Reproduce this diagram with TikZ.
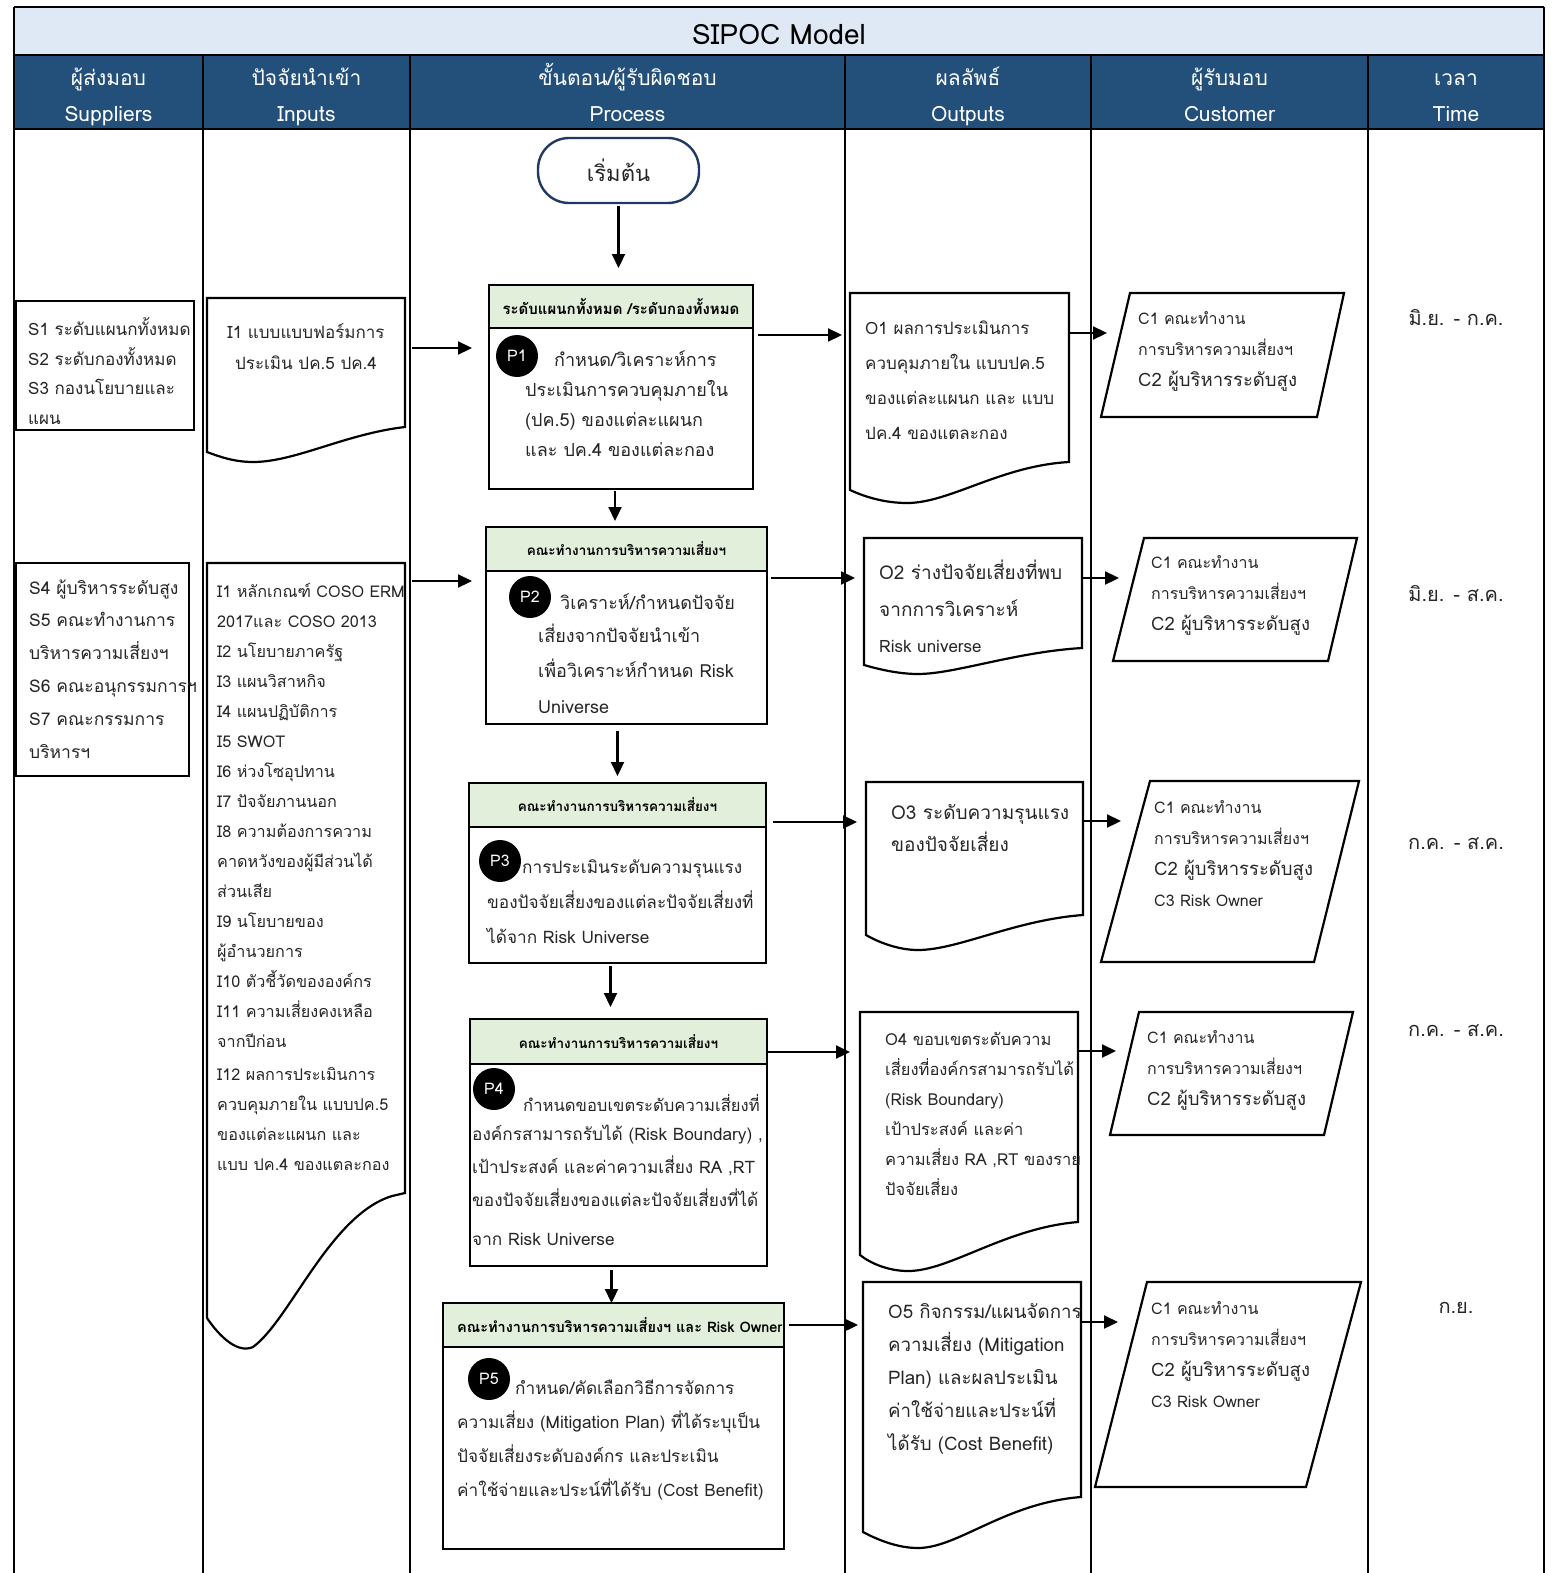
\documentclass[tikz,border=0pt]{standalone}
\usepackage{fontspec}
\setmainfont{Loma}[Script=Thai]
\usetikzlibrary{arrows.meta}
\definecolor{titlebg}{HTML}{DEE9F5}
\definecolor{hdrbg}{HTML}{22507A}
\definecolor{hgreen}{HTML}{E2EFDA}
\definecolor{navy}{HTML}{1F3864}
\definecolor{txt}{HTML}{262626}
\newcommand\fsz[2]{\fontsize{#1}{#2}\selectfont}
\begin{document}
\begin{tikzpicture}[x=1pt,y=-1pt,
 gridline/.style={line width=2pt},
 pbox/.style={draw, line width=2.4pt, anchor=north west, inner sep=0pt, outer sep=0pt},
 ar/.style={line width=2.2pt, -{Triangle[length=14pt,width=13pt]}},
 docshape/.style={draw, line width=2.2pt, line join=miter},
 ptag/.style={circle, fill=black, text=white, minimum size=42pt, inner sep=0pt, font=\fsz{16}{16}},
 tl/.style={anchor=base west, align=left, inner sep=0pt, text=txt},
 tc/.style={anchor=base, align=center, inner sep=0pt, text=txt},
 hd/.style={text=white, font=\fsz{21}{21}, anchor=base, inner sep=0pt},
 ghead/.style={font=\bfseries\fsz{13.5}{13.5}, inner sep=0pt},
]
\useasboundingbox (0,0) rectangle (1555,1573);
% ---------- frame ----------
\fill[titlebg] (14,7) rectangle (1544,55);
\fill[hdrbg] (14,55) rectangle (1544,129);
\draw[gridline] (14,7) -- (1544,7);
\draw[gridline] (14,55) -- (1544,55);
\draw[gridline] (14,129) -- (1544,129);
\foreach \cx in {14,203,410,845,1091,1368,1544}{\draw[gridline] (\cx,55) -- (\cx,1573);}
\draw[gridline] (14,7) -- (14,55);
\draw[gridline] (1544,7) -- (1544,55);
\node[font=\fsz{28}{28}, inner sep=0pt] (title) at (779,35) {SIPOC Model};
\node[hd] (h1a) at (108.5,86) {ผู้ส่งมอบ};
\node[hd] (h1b) at (108.5,122) {Suppliers};
\node[hd] (h2a) at (306.5,86) {ปัจจัยนำเข้า};
\node[hd] (h2b) at (306.5,122) {Inputs};
\node[hd] (h3a) at (627.5,86) {ขั้นตอน/ผู้รับผิดชอบ};
\node[hd] (h3b) at (627.5,122) {Process};
\node[hd] (h4a) at (968,86) {ผลลัพธ์};
\node[hd] (h4b) at (968,122) {Outputs};
\node[hd] (h5a) at (1229.5,86) {ผู้รับมอบ};
\node[hd] (h5b) at (1229.5,122) {Customer};
\node[hd] (h6a) at (1456,86) {เวลา};
\node[hd] (h6b) at (1456,122) {Time};

% ---------- suppliers ----------
\node[pbox, minimum width=178pt, minimum height=129pt] (s1) at (16,301) {};
\node[tl, font=\fsz{17}{29.5}] (s1t) at (28,424) {S1 ระดับแผนกทั้งหมด\\S2 ระดับกองทั้งหมด\\S3 กองนโยบายและ\\แผน};
\node[pbox, minimum width=173pt, minimum height=213pt] (s4) at (16,563) {};
\node[tl, font=\fsz{17.5}{32.8}] (s4t) at (29,758) {S4 ผู้บริหารระดับสูง\\S5 คณะทำงานการ\\บริหารความเสี่ยงฯ\\S6 คณะอนุกรรมการฯ\\S7 คณะกรรมการ\\บริหารฯ};

% ---------- inputs ----------
\draw[docshape] (207,298) -- (405,298) -- (405,427) .. controls (345,434) and (295,462) .. (253,462) .. controls (235,462) and (220,457) .. (207,452) -- cycle;
\node[tc, font=\fsz{17}{31}] (i1t) at (306,369) {I1 แบบแบบฟอร์มการ\\ประเมิน ปค.5 ปค.4};
\coordinate (i1r) at (412,348);
\draw[docshape] (207,563) -- (405,563) -- (405,1193) -- (392,1196) .. controls (330,1215) and (290,1320) .. (253,1347) .. controls (235,1355) and (215,1330) .. (207,1318) -- cycle;
\node[tl, font=\fsz{16.2}{30}] (i2t) at (217,1170) {I1 หลักเกณฑ์ COSO ERM\\2017และ COSO 2013\\I2 นโยบายภาครัฐ\\I3 แผนวิสาหกิจ\\I4 แผนปฏิบัติการ\\I5 SWOT\\I6 ห่วงโซอุปทาน\\I7 ปัจจัยภานนอก\\I8 ความต้องการความ\\คาดหวังของผู้มีส่วนได้\\ส่วนเสีย\\I9 นโยบายของ\\ผู้อำนวยการ\\I10 ตัวชี้วัดขององค์กร\\I11 ความเสี่ยงคงเหลือ\\จากปีก่อน\\[3pt]I12 ผลการประเมินการ\\ควบคุมภายใน แบบปค.5\\ของแต่ละแผนก และ\\แบบ ปค.4 ของแตละกอง};
\coordinate (i2r) at (412,581);

% ---------- process ----------
\node[draw=navy, line width=2.4pt, rounded corners=31pt, minimum width=161pt, minimum height=65pt, inner sep=0pt, font=\fsz{22}{22}, text=txt] (start) at (618.5,170.5) {เริ่มต้น};

\node[pbox, fill=hgreen, minimum width=264pt, minimum height=43pt] (p1h) at (489,285) {};
\node[ghead, font=\bfseries\fsz{15}{15}] (p1ht) at (p1h.center) {ระดับแผนกทั้งหมด /ระดับกองทั้งหมด};
\node[pbox, minimum width=264pt, minimum height=161pt] (p1b) at (489,328) {};
\node[ptag] (p1c) at (517,356) {P1};
\node[tl, font=\fsz{18}{30}] (p1t1) at (554,366) {กำหนด/วิเคราะห์การ};
\node[tl, font=\fsz{18}{30}] (p1t2) at (525,456) {ประเมินการควบคุมภายใน\\(ปค.5) ของแต่ละแผนก\\และ ปค.4 ของแต่ละกอง};

\node[pbox, fill=hgreen, minimum width=281pt, minimum height=44pt] (p2h) at (486,527) {};
\node[ghead] (p2ht) at (p2h.center) {คณะทำงานการบริหารความเสี่ยงฯ};
\node[pbox, minimum width=281pt, minimum height=153pt] (p2b) at (486,571) {};
\node[ptag] (p2c) at (530,597) {P2};
\node[tl, font=\fsz{18}{35.5}] (p2t1) at (560,609) {วิเคราะห์/กำหนดปัจจัย};
\node[tl, font=\fsz{18}{35.5}] (p2t2) at (538,713) {เสี่ยงจากปัจจัยนำเข้า\\เพื่อวิเคราะห์กำหนด Risk\\Universe};

\node[pbox, fill=hgreen, minimum width=297pt, minimum height=44pt] (p3h) at (469,783) {};
\node[ghead] (p3ht) at (p3h.center) {คณะทำงานการบริหารความเสี่ยงฯ};
\node[pbox, minimum width=297pt, minimum height=136pt] (p3b) at (469,827) {};
\node[ptag] (p3c) at (500,861) {P3};
\node[tl, font=\fsz{17.2}{35}] (p3t1) at (522,873) {การประเมินระดับความรุนแรง};
\node[tl, font=\fsz{17.2}{35}] (p3t2) at (487,943) {ของปัจจัยเสี่ยงของแต่ละปัจจัยเสี่ยงที่\\ได้จาก Risk Universe};

\node[pbox, fill=hgreen, minimum width=297pt, minimum height=45pt] (p4h) at (470,1019) {};
\node[ghead] (p4ht) at (p4h.center) {คณะทำงานการบริหารความเสี่ยงฯ};
\node[pbox, minimum width=297pt, minimum height=202pt] (p4b) at (470,1064) {};
\node[ptag] (p4c) at (494,1089) {P4};
\node[tl, font=\fsz{16.6}{33}] (p4t1) at (523,1111) {กำหนดขอบเขตระดับความเสี่ยงที่};
\node[tl, font=\fsz{17.2}{33}] (p4t2) at (472,1245) {องค์กรสามารถรับได้ (Risk Boundary) ,\\เป้าประสงค์ และค่าความเสี่ยง RA ,RT\\ของปัจจัยเสี่ยงของแต่ละปัจจัยเสี่ยงที่ได้\\[6pt]จาก Risk Universe};

\node[pbox, fill=hgreen, minimum width=341pt, minimum height=44pt] (p5h) at (443,1303) {};
\node[ghead, anchor=west, font=\bfseries\fsz{14.5}{14.5}] (p5ht) at (457,1325) {คณะทำงานการบริหารความเสี่ยงฯ และ Risk Owner};
\node[pbox, minimum width=341pt, minimum height=202pt] (p5b) at (443,1347) {};
\node[ptag] (p5c) at (489,1379) {P5};
\node[tl, font=\fsz{17.2}{34}] (p5t1) at (515,1394) {กำหนด/คัดเลือกวิธีการจัดการ};
\node[tl, font=\fsz{17.2}{34}] (p5t2) at (457,1496) {ความเสี่ยง (Mitigation Plan) ที่ได้ระบุเป็น\\ปัจจัยเสี่ยงระดับองค์กร และประเมิน\\ค่าใช้จ่ายและประน์ที่ได้รับ (Cost Benefit)};

% ---------- outputs ----------
\draw[docshape] (850,293) -- (1069,293) -- (1069,462) .. controls (1000,466) and (950,503) .. (907,503) .. controls (885,503) and (865,497) .. (850,490) -- cycle;
\node[tl, font=\fsz{17}{35}] (o1t) at (865,439) {O1 ผลการประเมินการ\\ควบคุมภายใน แบบปค.5\\ของแต่ละแผนก และ แบบ\\ปค.4 ของแตละกอง};
\coordinate (o1l) at (842,335); \coordinate (o1r) at (1069,333);

\draw[docshape] (864,538) -- (1082,538) -- (1082,648) .. controls (1015,652) and (955,674) .. (918,674) .. controls (898,674) and (878,669) .. (864,665) -- cycle;
\node[tl, font=\fsz{19}{37}] (o2t) at (879,616) {O2 ร่างปัจจัยเสี่ยงที่พบ\\จากการวิเคราะห์};
\node[tl, font=\fsz{17}{17}] (o2t2) at (879,652) {Risk universe};
\coordinate (o2l) at (855,578); \coordinate (o2r) at (1082,578);

\draw[docshape] (866,782) -- (1083,782) -- (1083,915) .. controls (1015,920) and (958,950) .. (918,950) .. controls (898,950) and (878,942) .. (866,935) -- cycle;
\node[tl, font=\fsz{19}{32}] (o3t) at (891,851) {O3 ระดับความรุนแรง\\ของปัจจัยเสี่ยง};
\coordinate (o3l) at (857,822); \coordinate (o3r) at (1083,821);

\draw[docshape] (860,1012) -- (1078,1012) -- (1078,1222) .. controls (1005,1228) and (950,1271) .. (908,1271) .. controls (888,1271) and (870,1263) .. (860,1255) -- cycle;
\node[tl, font=\fsz{16.5}{30}] (o4t) at (885,1195) {O4 ขอบเขตระดับความ\\เสี่ยงที่องค์กรสามารถรับได้\\(Risk Boundary)\\เป้าประสงค์ และค่า\\ความเสี่ยง RA ,RT ของราย\\ปัจจัยเสี่ยง};
\coordinate (o4l) at (850,1052); \coordinate (o4r) at (1078,1051);

\draw[docshape] (863,1282) -- (1081,1282) -- (1081,1497) .. controls (1005,1503) and (958,1548) .. (918,1548) .. controls (898,1548) and (878,1540) .. (863,1532) -- cycle;
\node[tl, font=\fsz{18.7}{33}] (o5t) at (888,1450) {O5 กิจกรรม/แผนจัดการ\\ความเสี่ยง (Mitigation\\Plan) และผลประเมิน\\ค่าใช้จ่ายและประน์ที่\\ได้รับ (Cost Benefit)};
\coordinate (o5l) at (858,1325); \coordinate (o5r) at (1081,1322);

% ---------- customers ----------
\draw[docshape] (1130,293) -- (1344,293) -- (1317,417) -- (1101,417) -- cycle;
\node[tl, font=\fsz{16}{31}] (c1t) at (1138,386) {C1 คณะทำงาน\\การบริหารความเสี่ยงฯ\\{\fsz{18.5}{18.5}C2 ผู้บริหารระดับสูง}};
\coordinate (c1l) at (1107,333);

\draw[docshape] (1144,538) -- (1357,538) -- (1328,661) -- (1113,661) -- cycle;
\node[tl, font=\fsz{16}{31}] (c2t) at (1151,630) {C1 คณะทำงาน\\การบริหารความเสี่ยงฯ\\{\fsz{18.5}{18.5}C2 ผู้บริหารระดับสูง}};
\coordinate (c2l) at (1119,578);

\draw[docshape] (1150,781) -- (1359,781) -- (1314,962) -- (1101,962) -- cycle;
\node[tl, font=\fsz{16}{31}] (c3t) at (1154,906) {C1 คณะทำงาน\\การบริหารความเสี่ยงฯ\\{\fsz{18.5}{18.5}C2 ผู้บริหารระดับสูง}\\C3 Risk Owner};
\coordinate (c3l) at (1121,821);

\draw[docshape] (1139,1012) -- (1353,1012) -- (1324,1135) -- (1110,1135) -- cycle;
\node[tl, font=\fsz{16}{31}] (c4t) at (1147,1105) {C1 คณะทำงาน\\การบริหารความเสี่ยงฯ\\{\fsz{18.5}{18.5}C2 ผู้บริหารระดับสูง}};
\coordinate (c4l) at (1116,1051);

\draw[docshape] (1147,1282) -- (1361,1282) -- (1306,1487) -- (1095,1487) -- cycle;
\node[tl, font=\fsz{16}{31}] (c5t) at (1151,1407) {C1 คณะทำงาน\\การบริหารความเสี่ยงฯ\\{\fsz{18.5}{18.5}C2 ผู้บริหารระดับสูง}\\C3 Risk Owner};
\coordinate (c5l) at (1118,1322);

% ---------- time ----------
\node[tc, font=\fsz{20}{20}] (tm1) at (1456,325) {มิ.ย. - ก.ค.};
\node[tc, font=\fsz{20}{20}] (tm2) at (1456,601) {มิ.ย. - ส.ค.};
\node[tc, font=\fsz{20}{20}] (tm3) at (1456,849) {ก.ค. - ส.ค.};
\node[tc, font=\fsz{20}{20}] (tm4) at (1456,1036) {ก.ค. - ส.ค.};
\node[tc, font=\fsz{20}{20}] (tm5) at (1456,1313) {ก.ย.};

% ---------- connectors ----------
\draw[ar, shorten <=2pt, shorten >=17pt] (start.south) -- (start.south |- p1h.north);
\draw[ar, shorten <=2pt, shorten >=6pt] ([xshift=-6pt]p1b.south) -- ([xshift=-6pt]p1b.south |- p2h.north);
\draw[ar, shorten <=7pt, shorten >=7pt] ([xshift=-9pt]p2b.south) -- ([xshift=-9pt]p2b.south |- p3h.north);
\draw[ar, shorten <=3pt, shorten >=12pt] ([xshift=-7pt]p3b.south) -- ([xshift=-7pt]p3b.south |- p4h.north);
\draw[ar, shorten <=4pt, shorten >=0pt] ([xshift=-7pt]p4b.south) -- ([xshift=-7pt]p4b.south |- p5h.north);
\draw[ar, shorten >=17pt] (i1r) -- (i1r -| p1b.west);
\draw[ar, shorten >=14pt] (i2r) -- (i2r -| p2b.west);
\draw[ar, shorten <=5pt] (p1b.east |- o1l) -- (o1l);
\draw[ar, shorten <=4pt] (p2b.east |- o2l) -- (o2l);
\draw[ar, shorten <=7pt] (p3h.east |- o3l) -- (o3l);
\draw[ar] (p4h.east |- o4l) -- (o4l);
\draw[ar, shorten <=7pt] (p5ht.east |- o5l) -- (o5l);
\draw[ar] (o1r) -- (c1l);
\draw[ar] (o2r) -- (c2l);
\draw[ar] (o3r) -- (c3l);
\draw[ar] (o4r) -- (c4l);
\draw[ar] (o5r) -- (c5l);
\end{tikzpicture}
\end{document}
